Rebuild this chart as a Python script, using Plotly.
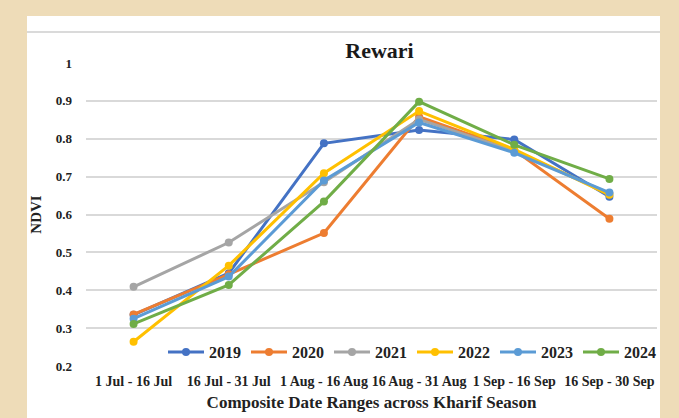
import plotly.graph_objects as go

categories = ["1 Jul - 16 Jul", "16 Jul - 31 Jul", "1 Aug - 16 Aug",
              "16 Aug - 31 Aug", "1 Sep - 16 Sep", "16 Sep - 30 Sep"]

years = ["2019", "2020", "2021", "2022", "2023", "2024"]
ndvi_2019 = [0.335, 0.445, 0.788, 0.823, 0.798, 0.647]
ndvi_2020 = [0.336, 0.442, 0.551, 0.858, 0.770, 0.589]
ndvi_2021 = [0.409, 0.526, 0.685, 0.851, 0.768, 0.655]
ndvi_2022 = [0.264, 0.465, 0.709, 0.873, 0.772, 0.652]
ndvi_2023 = [0.325, 0.436, 0.690, 0.843, 0.763, 0.658]
ndvi_2024 = [0.311, 0.414, 0.634, 0.898, 0.784, 0.694]
series = [ndvi_2019, ndvi_2020, ndvi_2021, ndvi_2022, ndvi_2023, ndvi_2024]
colors = ["#4472C4", "#ED7D31", "#A5A5A5", "#FFC000", "#5B9BD5", "#70AD47"]

W, H = 679, 418
ML, MR, MT, MB = 86, 22, 63, 52
PW, PH = W - ML - MR, H - MT - MB

fig = go.Figure()
for name, vals, c in zip(years, series, colors):
    fig.add_trace(go.Scatter(
        x=categories, y=vals, name="<b>" + name + "</b>", mode="lines+markers",
        line=dict(color=c, width=3),
        marker=dict(color=c, size=8, symbol="circle"),
    ))

serif = "Liberation Serif"
fig.update_layout(
    width=W, height=H,
    paper_bgcolor="#EEDCB8",
    plot_bgcolor="white",
    margin=dict(l=ML, r=MR, t=MT, b=MB, autoexpand=False),
    title=dict(text="<b>Rewari</b>", x=349 / W, xanchor="center",
               y=1 - 50 / H, yanchor="middle", xref="paper",
               font=dict(family=serif, size=22, color="#1a1a1a")),
    font=dict(family=serif, color="#222"),
    showlegend=True,
    legend=dict(orientation="h", x=(412 - ML) / PW, xanchor="center", y=(H - MB - 352) / PH,
                yanchor="middle",
                bgcolor="rgba(255,255,255,0)", font=dict(family=serif, size=16, color="#222"),
                itemwidth=36, tracegroupgap=0),
    xaxis=dict(type="category", range=[-0.5, 5.5], showgrid=False, zeroline=False,
               showline=False, automargin=False, ticklabelstandoff=5,
               tickfont=dict(family=serif, size=14, color="#222"),
               tickprefix="<b>", ticksuffix="</b>",
               title=dict(text="<b>Composite Date Ranges across Kharif Season</b>",
                          font=dict(family=serif, size=17, color="#222"), standoff=8)),
    yaxis=dict(range=[0.2, 1.0], dtick=0.1, tick0=0.2, showgrid=True,
               automargin=False,
               gridcolor="#D9D9D9", gridwidth=1.5, zeroline=False, showline=False,
               tickfont=dict(family=serif, size=13, color="#222"),
               tickprefix="<b>", ticksuffix="</b>", ticklabelstandoff=13,
               title=dict(text="<b>NDVI</b>", font=dict(family=serif, size=15, color="#222"),
                          standoff=10)),
    shapes=[
        dict(type="rect", xref="paper", yref="paper", layer="below",
             x0=(27 - ML) / PW, x1=(660 - ML) / PW,
             y0=-MB / PH - 0.05, y1=(H - 16 - MB) / PH,
             fillcolor="white", line=dict(width=0)),
        dict(type="line", xref="paper", yref="paper", layer="below",
             x0=(27 - ML) / PW, x1=(660 - ML) / PW,
             y0=(H - 32 - MB) / PH, y1=(H - 32 - MB) / PH,
             line=dict(color="#DADADA", width=2)),
    ],
)
fig.write_html("out.html", config={"displayModeBar": False},
               post_script="document.body.style.margin='0';")
